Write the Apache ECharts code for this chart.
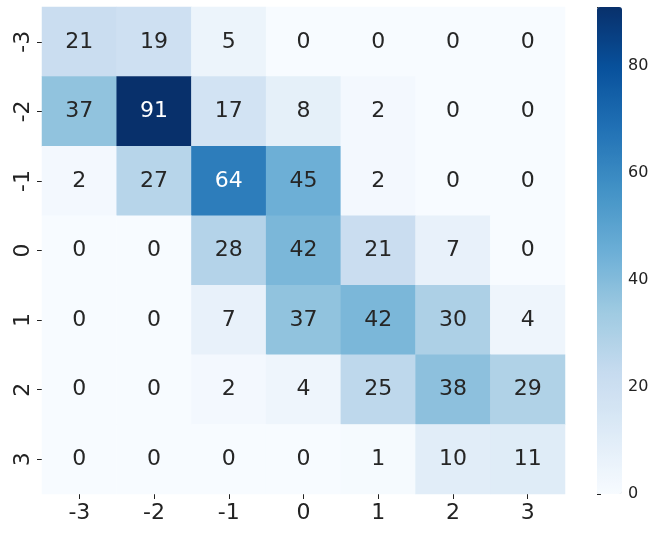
<!DOCTYPE html>
<html><head><meta charset="utf-8">
<script src="https://cdn.jsdelivr.net/npm/echarts@6/dist/echarts.min.js"></script>
<style>html,body{margin:0;padding:0;background:#fff}#c{width:658px;height:535px}</style>
</head><body><div id="c"></div>
<script>
const xLabels = ['-3','-2','-1','0','1','2','3'];
const yLabels = ['-3','-2','-1','0','1','2','3'];
const row_m3 = [21,19,5,0,0,0,0];
const row_m2 = [37,91,17,8,2,0,0];
const row_m1 = [2,27,64,45,2,0,0];
const row_0  = [0,0,28,42,21,7,0];
const row_1  = [0,0,7,37,42,30,4];
const row_2  = [0,0,2,4,25,38,29];
const row_3  = [0,0,0,0,1,10,11];
const rows = [row_m3,row_m2,row_m1,row_0,row_1,row_2,row_3];
const cbTicks = [0,20,40,60,80];
const vMin = 0, vMax = 91;

const data = [];
rows.forEach((r,yi)=>r.forEach((v,xi)=>{
  data.push({value:[xi,yi,v], label:{color: v>55 ? '#ffffff' : '#262626'}});
}));

const blues = ['#f7fbff','#deebf7','#c6dbef','#9ecae1','#6baed6','#4292c6','#2171b5','#08519c','#08306b'];
const font = 'DejaVu Sans';
const chart = echarts.init(document.getElementById('c'));
chart.setOption({
  animation:false,
  textStyle:{fontFamily:font},
  grid:[
    {left:42, top:7, width:523, height:487},
    {left:597, top:7, width:25, height:487}
  ],
  xAxis:[
    {type:'category', data:xLabels, gridIndex:0,
     axisLine:{show:false}, splitLine:{show:false},
     axisTick:{show:true, alignWithLabel:true, length:5, lineStyle:{color:'#222'}},
     axisLabel:{fontSize:22, color:'#222', margin:8, fontFamily:font}},
    {type:'value', gridIndex:1, show:false, min:0, max:1}
  ],
  yAxis:[
    {type:'category', data:yLabels, gridIndex:0, inverse:true,
     axisLine:{show:false}, splitLine:{show:false},
     axisTick:{show:true, alignWithLabel:true, length:5, lineStyle:{color:'#222'}},
     axisLabel:{fontSize:22, color:'#222', rotate:90, margin:8, fontFamily:font}},
    {type:'value', gridIndex:1, position:'right', min:vMin, max:vMax, interval:20,
     axisLine:{show:false}, splitLine:{show:false},
     axisTick:{show:true, length:4, lineStyle:{color:'#222'}},
     axisLabel:{fontSize:16, color:'#222', margin:6, fontFamily:font,
       formatter:v=>cbTicks.includes(v)?String(v):''}}
  ],
  visualMap:{
    type:'continuous', min:vMin, max:vMax, calculable:false, hoverLink:false,
    seriesIndex:0, inRange:{color:blues}, orient:'vertical',
    left:597, top:7, itemWidth:25, itemHeight:487, padding:0, text:null,
    showLabel:false
  },
  series:[
    {type:'heatmap', xAxisIndex:0, yAxisIndex:0, data:data,
     label:{show:true, fontSize:22, fontFamily:font, formatter:p=>p.value[2]},
     itemStyle:{borderWidth:0}},
    {type:'scatter', xAxisIndex:1, yAxisIndex:1, data:[], silent:true}
  ]
});
</script></body></html>
